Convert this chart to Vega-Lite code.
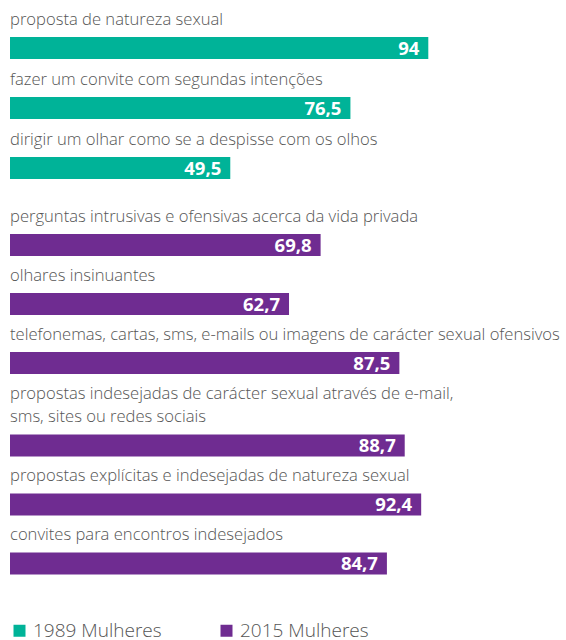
{
  "$schema": "https://vega.github.io/schema/vega-lite/v6.json",
  "padding": {"left": 10, "top": 0, "right": 0, "bottom": 0},
  "autosize": {"type": "pad"},
  "background": "white",
  "config": {
    "view": {"stroke": null},
    "locale": {"number": {"decimal": ",", "thousands": ".", "grouping": [3], "currency": ["", " €"]}},
    "text": {"font": "Open Sans"},
    "legend": {"labelFont": "Open Sans"}
  },
  "datasets": {
    "d": [
      {"grupo": "1989 Mulheres", "label": "proposta de natureza sexual", "valor": 94},
      {"grupo": "1989 Mulheres", "label": "fazer um convite com segundas intenções", "valor": 76.5},
      {"grupo": "1989 Mulheres", "label": "dirigir um olhar como se a despisse com os olhos", "valor": 49.5},
      {"grupo": "2015 Mulheres", "label": "perguntas intrusivas e ofensivas acerca da vida privada", "valor": 69.8},
      {"grupo": "2015 Mulheres", "label": "olhares insinuantes", "valor": 62.7},
      {"grupo": "2015 Mulheres", "label": "telefonemas, cartas, sms, e-mails ou imagens de carácter sexual ofensivos", "valor": 87.5},
      {"grupo": "2015 Mulheres", "label": "propostas indesejadas de carácter sexual através de e-mail,\nsms, sites ou redes sociais", "valor": 88.7},
      {"grupo": "2015 Mulheres", "label": "propostas explícitas e indesejadas de natureza sexual", "valor": 92.4},
      {"grupo": "2015 Mulheres", "label": "convites para encontros indesejados", "valor": 84.7}
    ]
  },
  "data": {"name": "d"},
  "spacing": 17.5,
  "bounds": "flush",
  "vconcat": [
    {
      "width": 445,
      "height": 180,
      "transform": [{"filter": {"field": "grupo", "equal": "1989 Mulheres"}}],
      "encoding": {
        "y": {"field": "label", "type": "nominal", "sort": null, "axis": null, "scale": {"paddingInner": 0, "paddingOuter": 0}}
      },
      "layer": [
        {
          "mark": {"type": "bar", "height": 22, "yOffset": 18},
          "encoding": {
            "x": {"field": "valor", "type": "quantitative", "scale": {"domain": [0, 100]}, "axis": null},
            "color": {
              "field": "grupo", "type": "nominal",
              "scale": {"domain": ["1989 Mulheres", "2015 Mulheres"], "range": ["#00B398", "#6F2C91"]},
              "legend": {"orient": "none", "legendX": 0, "legendY": 621, "direction": "horizontal", "title": null, "symbolType": "square", "symbolSize": 144, "symbolStrokeWidth": 0, "labelFontSize": 19, "labelFontWeight": 300, "labelColor": "#555555", "columnPadding": 55, "labelOffset": 4}
            }
          }
        },
        {
          "mark": {"type": "text", "align": "right", "baseline": "middle", "dx": -9, "dy": 1, "yOffset": 18, "color": "white", "fontWeight": "bold", "fontSize": 18.5},
          "encoding": {
            "x": {"field": "valor", "type": "quantitative"},
            "text": {"field": "valor", "type": "quantitative", "format": "~f"}
          }
        },
        {
          "mark": {"type": "text", "align": "left", "baseline": "bottom", "dy": -2.5, "lineBreak": "\n", "lineHeight": 23, "fontSize": 16.6, "fontWeight": 300, "color": "#555555"},
          "encoding": {
            "x": {"datum": 0, "type": "quantitative"},
            "text": {"field": "label"}
          }
        }
      ]
    },
    {
      "width": 445,
      "height": 177,
      "transform": [{"filter": {"field": "label", "oneOf": ["perguntas intrusivas e ofensivas acerca da vida privada", "olhares insinuantes", "telefonemas, cartas, sms, e-mails ou imagens de carácter sexual ofensivos"]}}],
      "encoding": {
        "y": {"field": "label", "type": "nominal", "sort": null, "axis": null, "scale": {"paddingInner": 0, "paddingOuter": 0}}
      },
      "layer": [
        {
          "mark": {"type": "bar", "height": 22, "yOffset": 18},
          "encoding": {
            "x": {"field": "valor", "type": "quantitative", "scale": {"domain": [0, 100]}, "axis": null},
            "color": {"field": "grupo", "type": "nominal"}
          }
        },
        {
          "mark": {"type": "text", "align": "right", "baseline": "middle", "dx": -9, "dy": 1, "yOffset": 18, "color": "white", "fontWeight": "bold", "fontSize": 18.5},
          "encoding": {
            "x": {"field": "valor", "type": "quantitative"},
            "text": {"field": "valor", "type": "quantitative", "format": "~f"}
          }
        },
        {
          "mark": {"type": "text", "align": "left", "baseline": "bottom", "dy": -2.5, "lineBreak": "\n", "lineHeight": 23, "fontSize": 16.6, "fontWeight": 300, "color": "#555555"},
          "encoding": {
            "x": {"datum": 0, "type": "quantitative"},
            "text": {"field": "label"}
          }
        }
      ]
    },
    {
      "width": 445,
      "height": 183,
      "transform": [{"filter": {"field": "label", "oneOf": ["propostas indesejadas de carácter sexual através de e-mail,\nsms, sites ou redes sociais", "propostas explícitas e indesejadas de natureza sexual", "convites para encontros indesejados"]}}],
      "encoding": {
        "y": {"field": "label", "type": "nominal", "sort": null, "axis": null, "scale": {"paddingInner": 0, "paddingOuter": 0.0508, "align": 1}}
      },
      "layer": [
        {
          "mark": {"type": "bar", "height": 22, "yOffset": 18},
          "encoding": {
            "x": {"field": "valor", "type": "quantitative", "scale": {"domain": [0, 100]}, "axis": null},
            "color": {"field": "grupo", "type": "nominal"}
          }
        },
        {
          "mark": {"type": "text", "align": "right", "baseline": "middle", "dx": -9, "dy": 1, "yOffset": 18, "color": "white", "fontWeight": "bold", "fontSize": 18.5},
          "encoding": {
            "x": {"field": "valor", "type": "quantitative"},
            "text": {"field": "valor", "type": "quantitative", "format": "~f"}
          }
        },
        {
          "transform": [{"filter": {"field": "label", "oneOf": ["propostas explícitas e indesejadas de natureza sexual", "convites para encontros indesejados"]}}],
          "mark": {"type": "text", "align": "left", "baseline": "bottom", "dy": -2.5, "lineBreak": "\n", "lineHeight": 23, "fontSize": 16.6, "fontWeight": 300, "color": "#555555"},
          "encoding": {
            "x": {"datum": 0, "type": "quantitative"},
            "text": {"field": "label"}
          }
        },
        {
          "transform": [{"filter": {"field": "label", "oneOf": ["propostas indesejadas de carácter sexual através de e-mail,\nsms, sites ou redes sociais"]}}],
          "mark": {"type": "text", "align": "left", "baseline": "bottom", "dy": -25, "lineBreak": "\n", "lineHeight": 23, "fontSize": 16.6, "fontWeight": 300, "color": "#555555"},
          "encoding": {
            "x": {"datum": 0, "type": "quantitative"},
            "text": {"field": "label"}
          }
        }
      ]
    }
  ]
}
